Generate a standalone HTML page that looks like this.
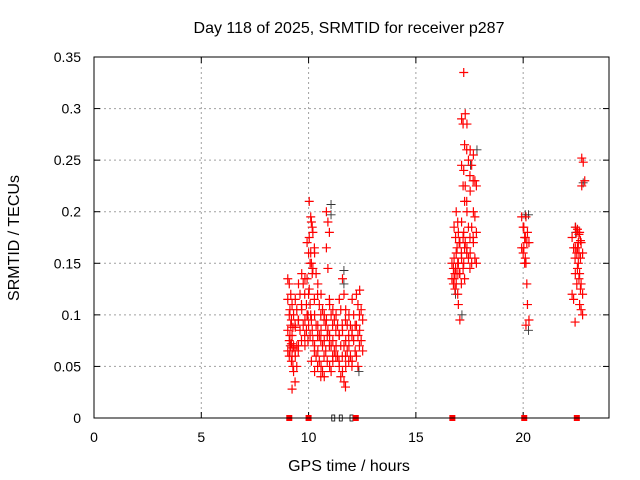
<!DOCTYPE html>
<html><head><meta charset="utf-8"><style>
body{margin:0;background:#fff}
svg{display:block;font-family:"Liberation Sans",sans-serif;font-size:14px}
</style></head><body>
<svg id="chart" width="640" height="480">
<text x="349" y="33" text-anchor="middle" font-size="16">Day 118 of 2025, SRMTID for receiver p287</text>
<text x="349" y="471" text-anchor="middle" font-size="16">GPS time / hours</text>
<text transform="translate(19,238) rotate(-90)" text-anchor="middle" font-size="16">SRMTID / TECUs</text>
<g id="grid"></g>
<g id="ticks"></g>
<g id="black"></g>
<g id="red"></g>
<rect x="94" y="57" width="515" height="361" fill="none" stroke="#000"/>
</svg>
<script>
const xTicks=[0,5,10,15,20];
const yTicks=[0,0.05,0.1,0.15,0.2,0.25,0.3,0.35];
const yTickLabels=["0","0.05","0.1","0.15","0.2","0.25","0.3","0.35"];
const redColX=[9.1,9.2,9.3,9.45,9.6,9.75,9.9,10.0,10.1,10.2,10.35,10.5,10.65,10.8,10.9,11.05,11.2,11.35,11.5,11.65,11.8,11.95,12.1,12.3,12.45,
16.75,16.85,16.95,17.05,17.2,17.3,17.45,17.6,17.75,20.0,20.1,20.2,22.35,22.5,22.6,22.7,22.8];
const redColVals=[
[.135,.13,.12,.115,.1,.09,.085,.075,.07,.065,.06],
[.105,.095,.088,.08,.072,.068,.065,.055,.05],
[.11,.1,.09,.08,.07,.065,.06,.045,.035,.028],
[.115,.105,.095,.088,.07,.065,.06,.05],
[.13,.12,.11,.095,.085,.075,.07],
[.14,.13,.12,.105,.09,.08],
[.135,.11,.1,.095,.085,.075,.07],
[.17,.16,.15,.135,.12,.11,.1,.09,.08],
[.21,.195,.185,.175,.16,.14,.125,.1,.085],
[.19,.18,.165,.15,.145,.115,.095,.075,.065,.055],
[.16,.14,.12,.1,.09,.08,.07,.06,.05,.045],
[.13,.11,.1,.09,.08,.075,.065,.055,.04],
[.12,.105,.095,.085,.07,.06,.05,.045],
[.1,.09,.08,.075,.065,.055,.04],
[.2,.19,.18,.165,.145,.115,.095,.085,.07],
[.11,.1,.09,.08,.07,.06,.05,.045],
[.105,.095,.085,.075,.065,.06,.055],
[.1,.09,.08,.07,.06,.055],
[.115,.105,.09,.08,.07,.06,.05,.04],
[.135,.12,.095,.085,.07,.06,.045,.035,.03],
[.105,.09,.08,.075,.065,.055,.05],
[.1,.09,.08,.07,.06,.05],
[.115,.1,.09,.085,.075,.065,.055],
[.12,.11,.1,.09,.08,.07,.06,.05],
[.124,.105,.095,.085,.075,.065],
[.15,.145,.14,.135,.13,.125],
[.185,.175,.165,.155,.145,.14,.135],
[.2,.19,.17,.16,.15,.14,.13,.12],
[.18,.17,.16,.15,.14,.13,.11,.095],
[.29,.285,.265,.245,.225,.21,.19,.175,.165,.155,.145,.135],
[.335,.295,.26,.24,.225,.21,.18,.17,.16,.15],
[.285,.25,.235,.2,.185,.175,.165,.155,.145],
[.26,.245,.23,.22,.185,.175,.16,.15],
[.255,.23,.225,.2,.195,.18,.17,.155,.15],
[.195,.185,.175,.165,.16,.15],
[.185,.175,.17,.165,.155,.13],
[.195,.18,.17,.15,.11,.095,.09],
[.175,.165,.155,.12,.115,.093],
[.185,.18,.17,.165,.16,.15,.14,.13],
[.183,.178,.172,.165,.16,.155,.145,.135,.125],
[.18,.17,.16,.14,.13,.12,.11,.105,.1],
[.252,.248,.23,.225]];
const blackX=[11.0,11.0,11.6,11.6,17.8,17.5,20.05,20.2,20.2,22.75,9.1,12.3,16.8,17.1,22.4,22.4];
const blackY=[.207,.197,.143,.13,.26,.245,.197,.197,.085,.228,.07,.045,.12,.1,.18,.185];
const redZeroX=[9.1,10.0,12.2,16.7,20.05,22.5];
const blackZeroX=[11.15,11.5,12.0];

const NS="http://www.w3.org/2000/svg";
const X0=94,X1=609,Y0=418,Y1=57;
const xs=h=>X0+h*(X1-X0)/24;
const ys=v=>Y0-v*(Y0-Y1)/0.35;
function mk(tag,at,parent){const e=document.createElementNS(NS,tag);for(const k in at)e.setAttribute(k,at[k]);parent.appendChild(e);return e;}
const grid=document.getElementById('grid'),ticks=document.getElementById('ticks');
const svg=document.getElementById('chart');
xTicks.forEach(t=>{const x=xs(t);
 if(t>0){const g=mk('line',{x1:x,x2:x,y1:Y1,y2:Y0,stroke:'#a0a0a0','stroke-dasharray':'2,3'},grid);
 }
 mk('line',{x1:x,x2:x,y1:Y0,y2:Y0-6,stroke:'#000'},ticks);mk('line',{x1:x,x2:x,y1:Y1,y2:Y1+6,stroke:'#000'},ticks);
 const l=mk('text',{x:x,y:442,'text-anchor':'middle'},svg);l.textContent=t;
 
 });
yTicks.forEach((t,i)=>{const y=ys(t);
 if(t>0&&t<0.35){const g=mk('line',{x1:X0,x2:X1,y1:y,y2:y,stroke:'#a0a0a0','stroke-dasharray':'2,3'},grid);
 }
 mk('line',{x1:X0,x2:X0+6,y1:y,y2:y,stroke:'#000'},ticks);mk('line',{x1:X1,x2:X1-6,y1:y,y2:y,stroke:'#000'},ticks);
 const l=mk('text',{x:81,y:y+5,'text-anchor':'end'},svg);l.textContent=yTickLabels[i];
 
 });
function plus(g,x,y,c,w){const p=mk('path',{d:`M${x-4.5},${y}h9M${x},${y-4.5}v9`,stroke:c,'stroke-width':w,fill:'none'},g);return p;}
const bg=document.getElementById('black'),rg=document.getElementById('red');
blackX.forEach((h,i)=>{const p=plus(bg,xs(h)+1,ys(blackY[i]),'#333',0.9);
 
 });
blackZeroX.forEach(h=>{const p=mk('rect',{x:xs(h)-1.5,y:Y0-3,width:3,height:6,fill:'none',stroke:'#000','stroke-width':0.8},bg);
 
 });
redColX.forEach((h,i)=>{redColVals[i].forEach((v,j)=>{const p=plus(rg,xs(h)+((j%3)-1)*1.5,ys(v),'#f00',1.2);
 
 });});
redZeroX.forEach(h=>{const p=mk('rect',{x:xs(h)-3,y:Y0-3,width:6,height:6,fill:'#f00'},rg);
 
 });
</script>
</body></html>
